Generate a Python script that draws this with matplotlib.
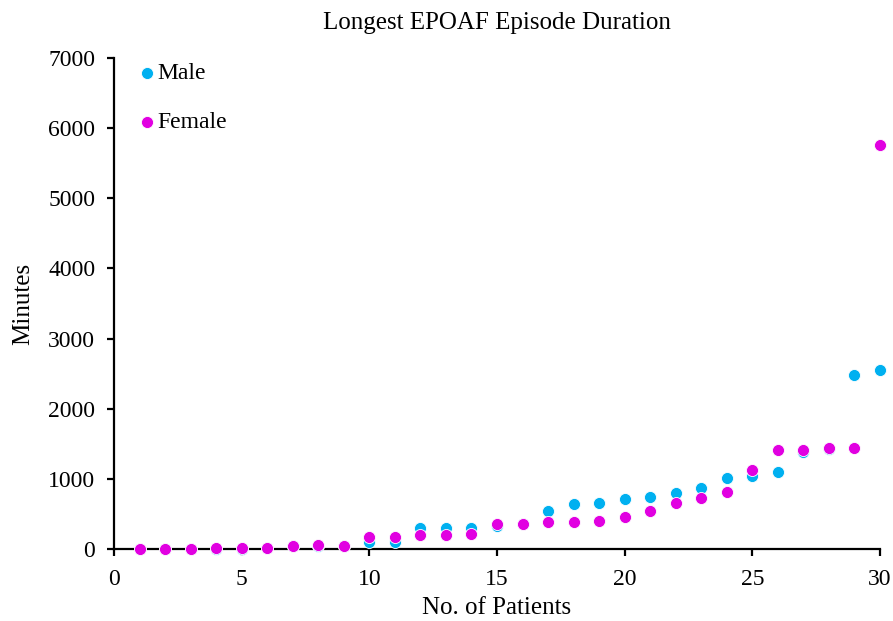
import matplotlib
matplotlib.use("Agg")
import matplotlib.pyplot as plt

patients = list(range(1, 31))
male_minutes = [0, 0, 0, 5, 5, 10, 40, 50, 50, 105,
                105, 295, 300, 295, 330, 355, 542, 637, 656, 713,
                742, 797, 875, 1009, 1041, 1103, 1390, 1420, 2478, 2549]
female_minutes = [0, 0, 5, 10, 10, 10, 45, 55, 50, 165,
                  175, 195, 200, 210, 352, 352, 390, 390, 395, 450,
                  540, 654, 727, 813, 1131, 1408, 1408, 1436, 1436, 5760]

male_color = "#00B0F0"
female_color = "#E100E1"

plt.rcParams["font.family"] = ["Liberation Serif", "DejaVu Serif"]

fig = plt.figure(figsize=(8.93, 6.21), dpi=100)
ax = fig.add_axes([0.1277, 0.1159, 0.8577, 0.7907])

ax.scatter(patients, male_minutes, s=75, color=male_color, edgecolors="white",
           linewidths=0.6, label="Male", clip_on=False, zorder=3)
ax.scatter(patients, female_minutes, s=75, color=female_color, edgecolors="white",
           linewidths=0.6, label="Female", clip_on=False, zorder=4)

ax.set_xlim(0, 30)
ax.set_ylim(0, 7000)
ax.set_xticks(range(0, 31, 5))
ax.set_yticks(range(0, 7001, 1000))

for side in ("top", "right"):
    ax.spines[side].set_visible(False)
for side in ("left", "bottom"):
    ax.spines[side].set_linewidth(1.6)
ax.tick_params(direction="out", length=5, width=1.6, labelsize=17)
ax.tick_params(axis="y", pad=8.5)
ax.tick_params(axis="x", pad=9.5)

ax.set_title("Longest EPOAF Episode Duration", fontsize=18, pad=21)
ax.set_xlabel("No. of Patients", fontsize=18, labelpad=5)
ax.set_ylabel("Minutes", fontsize=18, labelpad=10)

ax.legend(loc="upper left", bbox_to_anchor=(0.018, 1.01), frameon=False,
          fontsize=17, handlelength=0.8, handletextpad=0.05,
          labelspacing=1.15, markerscale=1.0, borderaxespad=0)

fig.savefig("out.png", dpi=100)
